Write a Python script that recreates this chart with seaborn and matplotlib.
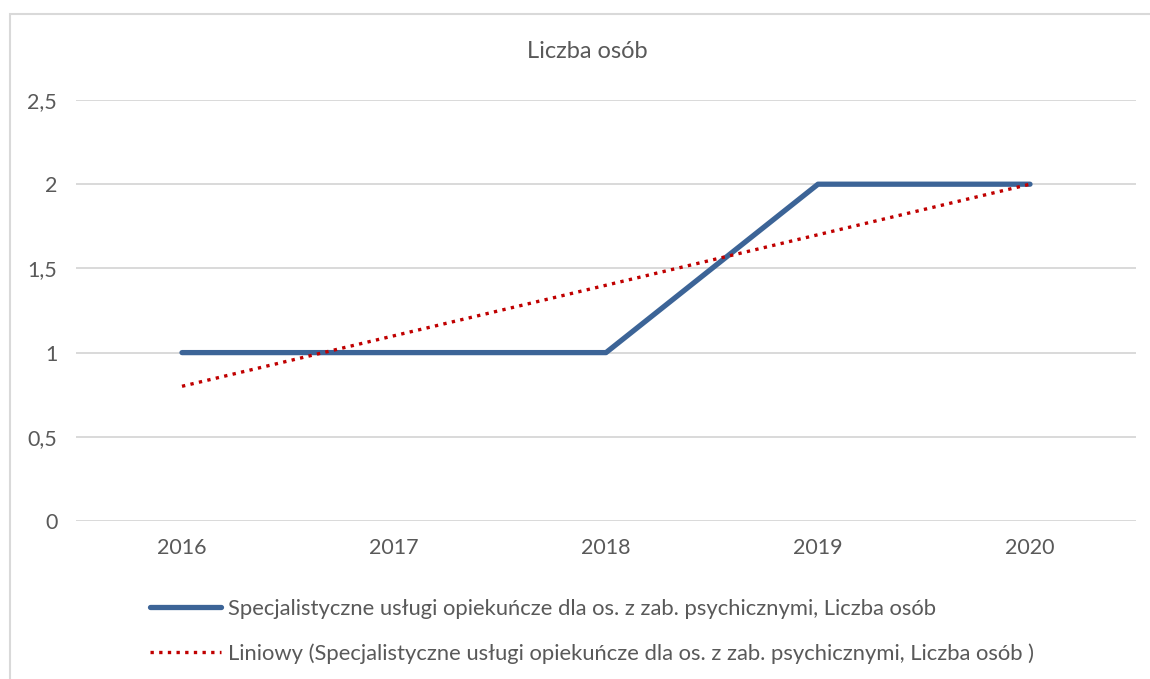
import numpy as np
import pandas as pd
import matplotlib.pyplot as plt
import seaborn as sns
from matplotlib.patches import Rectangle

# Data
years = ["2016", "2017", "2018", "2019", "2020"]
people = [1, 1, 1, 2, 2]
series_name = "Specjalistyczne usługi opiekuńcze dla os. z zab. psychicznymi, Liczba osób"
trend_name = "Liniowy (Specjalistyczne usługi opiekuńcze dla os. z zab. psychicznymi, Liczba osób )"
title = "Liczba osób"

sns.set_theme(style="white")
plt.rcParams["font.family"] = ["Lato", "DejaVu Sans"]
text_color = "#595959"

df = pd.DataFrame({"idx": np.arange(len(years)), "value": people})

fig = plt.figure(figsize=(11.5, 6.79), dpi=100)
ax = fig.add_axes([76 / 1150, 1 - 521 / 679, 1060 / 1150, 421 / 679])

# gridlines
ax.set_ylim(0, 2.5)
ax.set_yticks(np.arange(0, 2.51, 0.5))
ax.yaxis.grid(True, color="#d9d9d9", linewidth=1.4)
ax.set_axisbelow(True)

sns.lineplot(data=df, x="idx", y="value", ax=ax, color="#3c6497",
             linewidth=3.8, solid_capstyle="round", label=series_name, legend=False)
sns.regplot(data=df, x="idx", y="value", ax=ax, scatter=False, ci=None,
            truncate=True,
            line_kws=dict(color="#c00000", linewidth=2.4, linestyle=(0, (1, 1.6))))

ax.set_xlim(-0.5, len(years) - 0.5)
ax.set_xticks(df["idx"])
ax.set_xticklabels(years)
ax.set_yticklabels(["0", "0,5", "1", "1,5", "2", "2,5"])
ax.tick_params(axis="both", colors=text_color, labelsize=15.5, length=0)
ax.tick_params(axis="y", pad=13.5)
ax.tick_params(axis="x", pad=12)
ax.set_xlabel("")
ax.set_ylabel("")
for s in ax.spines.values():
    s.set_visible(False)

fig.text(587 / 1150, 1 - 52 / 679, title, ha="center", va="center",
         fontsize=17, color=text_color)

h1 = plt.Line2D([], [], color="#3c6497", linewidth=3.8, solid_capstyle="round")
h2 = plt.Line2D([], [], color="#c00000", linewidth=2.4, linestyle=(0, (1, 1.6)))
fig.legend([h1, h2], [series_name, trend_name], loc="upper left",
           bbox_to_anchor=(130 / 1150, 1 - 579 / 679), frameon=False,
           fontsize=15.8, labelcolor=text_color, handlelength=3.25,
           handletextpad=0.3, labelspacing=1.12)

# chart border
fig.patches.append(Rectangle((10 / 1150, -0.05), 1.1, 1 - 14 / 679 + 0.05,
                             transform=fig.transFigure, fill=False,
                             edgecolor="#d9d9d9", linewidth=1.5))

fig.savefig("out.png", dpi=100, facecolor="white")
